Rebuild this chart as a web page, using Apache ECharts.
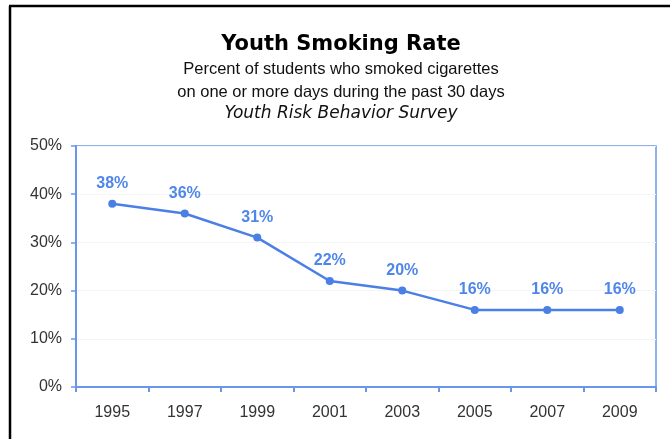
<!DOCTYPE html>
<html>
<head>
<meta charset="utf-8">
<script src="https://cdn.jsdelivr.net/npm/echarts@6/dist/echarts.min.js"></script>
<style>html,body{margin:0;padding:0;background:#fff;}#c{width:670px;height:439px;}</style>
</head>
<body>
<div id="c"></div>
<script>
const years = ['1995','1997','1999','2001','2003','2005','2007','2009'];
const rates = [38, 36, 31, 22, 20, 16, 16, 16];
const yTicks = [0, 10, 20, 30, 40, 50];
const titleLines = ['Youth Smoking Rate', 'Percent of students who smoked cigarettes', 'on one or more days during the past 30 days', 'Youth Risk Behavior Survey'];

const blue = '#4a7fe6';
const axisBlue = '#6a96ec';
const chart = echarts.init(document.getElementById('c'));
chart.setOption({
  backgroundColor: '#fff',
  animation: false,
  graphic: [
    { type: 'line', shape: { x1: 10, y1: 6, x2: 10, y2: 439 }, style: { stroke: '#000', lineWidth: 2.5 } },
    { type: 'line', shape: { x1: 9, y1: 6, x2: 670, y2: 6 }, style: { stroke: '#000', lineWidth: 2.5 } },
    { type: 'text', x: 341, y: 45, style: { text: titleLines[0], font: 'bold 21px "DejaVu Sans"', fill: '#000', align: 'center', verticalAlign: 'middle' } },
    { type: 'text', x: 341, y: 69, style: { text: titleLines[1], font: '16.5px "Liberation Sans"', fill: '#111', align: 'center', verticalAlign: 'middle' } },
    { type: 'text', x: 341, y: 92, style: { text: titleLines[2], font: '16.5px "Liberation Sans"', fill: '#111', align: 'center', verticalAlign: 'middle' } },
    { type: 'text', x: 341, y: 114, style: { text: titleLines[3], font: 'italic 17px "DejaVu Sans"', fill: '#111', align: 'center', verticalAlign: 'middle' } }
  ],
  grid: { left: 76, right: 14, top: 146, bottom: 52, show: true, borderColor: axisBlue, borderWidth: 1.5, backgroundColor: 'transparent' },
  xAxis: {
    type: 'category', data: years, boundaryGap: true,
    axisLine: { lineStyle: { color: axisBlue, width: 2 } },
    axisTick: { show: true, inside: false, length: 5, lineStyle: { color: axisBlue, width: 2 } },
    axisLabel: { color: '#333', fontFamily: 'Liberation Sans', fontSize: 16, margin: 18 }
  },
  yAxis: {
    type: 'value', min: 0, max: 50, interval: 10,
    axisLine: { show: true, lineStyle: { color: axisBlue, width: 2 } },
    axisTick: { show: true, inside: false, length: 5, lineStyle: { color: axisBlue, width: 1.5 } },
    axisLabel: { color: '#333', fontFamily: 'Liberation Sans', fontSize: 16, margin: 14,
      formatter: function (v) { return yTicks.indexOf(v) >= 0 ? v + '%' : ''; } },
    splitLine: { show: true, lineStyle: { color: '#f5f5f5', width: 1 } }
  },
  series: [{
    type: 'line', data: rates,
    symbol: 'circle', symbolSize: 8,
    lineStyle: { color: blue, width: 2.5 },
    itemStyle: { color: blue },
    label: { show: true, position: 'top', distance: 8, formatter: '{c}%', color: '#4f86ea', fontFamily: 'Liberation Sans', fontWeight: 'bold', fontSize: 16 }
  }]
});
</script>
</body>
</html>
